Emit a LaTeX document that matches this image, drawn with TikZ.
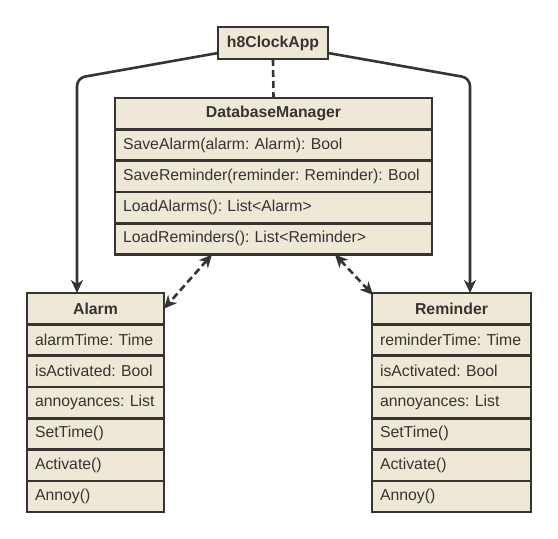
\documentclass[tikz,border=0pt]{standalone}
\usepackage{fontspec}
\setmainfont{Liberation Sans}
\frenchspacing
\usetikzlibrary{positioning, arrows.meta}
\definecolor{boxfill}{HTML}{F0E8D7}
\definecolor{inkgray}{HTML}{353431}
\tikzset{
  classhead/.style={draw=inkgray, fill=boxfill, line width=2.6pt, inner xsep=8pt, inner ysep=0pt,
    minimum height=31.3pt, outer sep=0pt, align=center, text=inkgray,
    font=\bfseries\fontsize{15.8}{18}\selectfont, anchor=north west},
  classrow/.style={classhead, align=left, font=\fontsize{15.8}{18}\selectfont, anchor=north},
  assoc/.style={draw=inkgray, line width=2.6pt, rounded corners=8pt,
    -{Stealth[length=13pt, width=12pt, inset=4pt]}},
  dbllink/.style={draw=inkgray, line width=2.6pt, dash pattern=on 7pt off 4pt,
    {Stealth[length=13pt, width=12pt, inset=4pt]}-{Stealth[length=13pt, width=12pt, inset=4pt]}},
}

\begin{document}
\begin{tikzpicture}[x=1pt, y=-1pt]
    \useasboundingbox (0,0) rectangle (558,539);

    % main app
    \node[classhead, text width=94pt, minimum height=32pt] (app) at (218,27) {h8ClockApp};

    % database manager
    \node[classhead, text width=301pt] (db-0) at (115,98) {DatabaseManager};
    \foreach \txt [count=\i, remember=\i as \last (initially 0)] in
        {SaveAlarm(alarm: Alarm): Bool, SaveReminder(reminder: Reminder): Bool,
         LoadAlarms(): List<Alarm>, LoadReminders(): List<Reminder>}
        \node[classrow, text width=301pt, below=0pt of db-\last] (db-\i) {\txt};

    % alarm class
    \node[classhead, text width=121pt] (alarm-0) at (27,293) {Alarm};
    \foreach \txt [count=\i, remember=\i as \last (initially 0)] in
        {alarmTime: Time, isActivated: Bool, annoyances: List, SetTime(), Activate(), Annoy()}
        \node[classrow, text width=121pt, below=0pt of alarm-\last] (alarm-\i) {\txt};

    % reminder class
    \node[classhead, text width=143pt] (rem-0) at (372,293) {Reminder};
    \foreach \txt [count=\i, remember=\i as \last (initially 0)] in
        {reminderTime: Time, isActivated: Bool, annoyances: List, SetTime(), Activate(), Annoy()}
        \node[classrow, text width=143pt, below=0pt of rem-\last] (rem-\i) {\txt};

    % connectors
    \coordinate (lbend) at (77,78);
    \coordinate (rbend) at (470,78);
    \draw[assoc] ([yshift=-10pt]app.west) -- (lbend) -- (lbend |- alarm-0.north);
    \draw[assoc] ([yshift=-10pt]app.east) -- (rbend) -- (rbend |- rem-0.north);
    \draw[draw=inkgray, line width=2.6pt, dash pattern=on 7pt off 4pt] (app.south) -- (db-0.north);
    \draw[dbllink] ([xshift=97pt]db-4.south west) -- (alarm-0.east);
    \draw[dbllink] ([xshift=-97pt]db-4.south east) -- ([xshift=1pt, yshift=-2pt]rem-0.north west);
\end{tikzpicture}
\end{document}
